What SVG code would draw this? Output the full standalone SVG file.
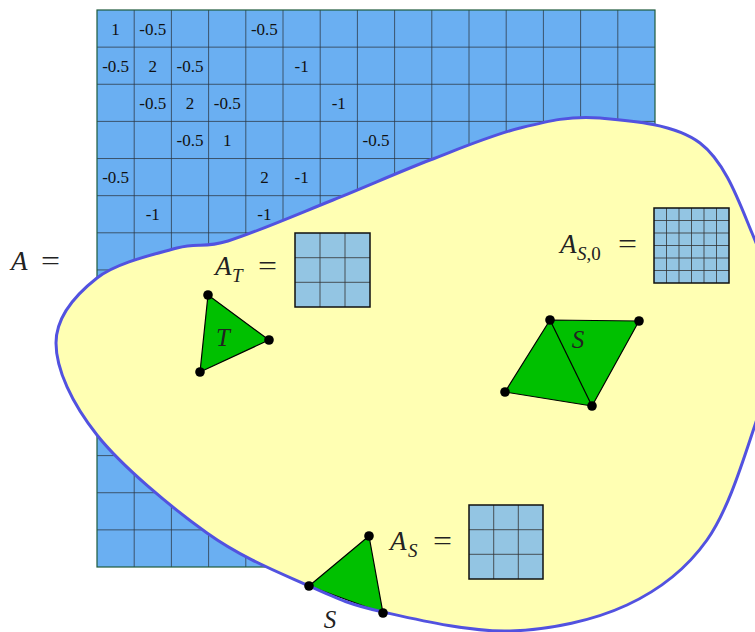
<svg xmlns="http://www.w3.org/2000/svg" width="755" height="632" viewBox="0 0 755 632">
<style>
  .num { font-family: "Liberation Serif", "DejaVu Serif", serif; font-size: 17px; fill: #111; text-anchor: middle; }
  .lbl { font-family: "Liberation Serif", "DejaVu Serif", serif; fill: #222; }
  .it { font-style: italic; }
  .gridline { fill: none; stroke: #2b3640; stroke-opacity: 0.75; stroke-width: 1; }
  .small { fill: #93c5e3; }
  .smallline { fill: none; stroke: #333; stroke-opacity: 0.8; stroke-width: 1; }
  .smallborder { fill: none; stroke: #111; stroke-width: 1.5; }
  .mesh { fill: #00c000; stroke: #000; stroke-width: 1.2; stroke-linejoin: round; }
  .dot { fill: #000; }
</style>
<defs>
  <circle id="v" r="4.8" class="dot"/>
  <path id="blob" d="M56 343C56 316.8 76.8 293.8 97 278C117.2 262.2 155.2 254.2 177 248C198.8 241.8 202 249 228 241C254 233 299.3 213.5 333 200C366.7 186.5 398.8 172 430 160C461.2 148 491.7 135 520 128C548.3 121 570 115.5 600 118C630 120.5 674.7 123.8 700 143C725.3 162.2 739 201.8 752 233C765 264.2 777.5 298 778 330C778.5 362 766.8 390 755 425C743.2 460 728.3 510 707 540C685.7 570 659.8 589.8 627 605C594.2 620.2 550.7 629.8 510 631C469.3 632.2 416.5 619.5 383 612C349.5 604.5 338.3 599.2 309 586C279.7 572.8 242.3 558.2 207 533C171.7 507.8 122.2 466.7 97 435C71.8 403.3 56 369.2 56 343Z"/>
</defs>
<rect width="755" height="632" fill="#ffffff"/>

<g id="matrix-A">
  <rect x="97" y="10" width="558" height="557" fill="#6aaff2"/>
  <path class="gridline" d="M134.2 10V567M171.4 10V567M208.6 10V567M245.8 10V567M283 10V567M320.2 10V567M357.4 10V567M394.6 10V567M431.8 10V567M469 10V567M506.2 10V567M543.4 10V567M580.6 10V567M617.8 10V567
  M97 47.13H655M97 84.27H655M97 121.4H655M97 158.53H655M97 195.67H655M97 232.8H655M97 269.93H655M97 307.07H655M97 344.2H655M97 381.33H655M97 418.47H655M97 455.6H655M97 492.73H655M97 529.87H655"/>
  <rect x="97" y="10" width="558" height="557" fill="none" stroke="#1e5a3c" stroke-width="1.2"/>
  <g class="num">
    <text x="115.6" y="35">1</text>
    <text x="152.8" y="35">-0.5</text>
    <text x="264.4" y="35">-0.5</text>
    <text x="115.6" y="72">-0.5</text>
    <text x="152.8" y="72">2</text>
    <text x="190" y="72">-0.5</text>
    <text x="301.6" y="72">-1</text>
    <text x="152.8" y="109">-0.5</text>
    <text x="190" y="109">2</text>
    <text x="227.2" y="109">-0.5</text>
    <text x="338.8" y="109">-1</text>
    <text x="190" y="146">-0.5</text>
    <text x="227.2" y="146">1</text>
    <text x="376" y="146">-0.5</text>
    <text x="115.6" y="183">-0.5</text>
    <text x="264.4" y="183">2</text>
    <text x="301.6" y="183">-1</text>
    <text x="152.8" y="220">-1</text>
    <text x="264.4" y="220">-1</text>
  </g>
</g>

<g id="label-A">
  <text class="lbl it" x="11" y="270" font-size="27">A</text>
  <text class="lbl" x="41" y="270" font-size="27" textLength="19" lengthAdjust="spacingAndGlyphs">=</text>
</g>

<g id="domain">
  <use href="#blob" fill="#ffffb3" stroke="none"/>
</g>

<g id="mesh-T">
  <polygon class="mesh" points="208,295 269,340 200,372"/>
  <text class="lbl it" x="223" y="346" font-size="25" text-anchor="middle">T</text>
</g>

<g id="mesh-S-interior">
  <polygon class="mesh" points="550,320 639,321 592,406 505,392"/>
  <line x1="550" y1="320" x2="592" y2="406" stroke="#000" stroke-width="1.2"/>
  <text class="lbl it" x="578" y="348" font-size="25" text-anchor="middle">S</text>
</g>

<g id="mesh-S-boundary">
  <polygon class="mesh" points="369,536 309,586 383,613"/>
  <text class="lbl it" x="330" y="628" font-size="25" text-anchor="middle">S</text>
</g>

<g id="domain-outline">
  <use href="#blob" fill="none" stroke="#5252e0" stroke-width="3"/>
</g>

<g id="vertices">
  <use href="#v" x="208" y="295"/>
  <use href="#v" x="269" y="340"/>
  <use href="#v" x="200" y="372"/>
  <use href="#v" x="550" y="320"/>
  <use href="#v" x="639" y="321"/>
  <use href="#v" x="592" y="406"/>
  <use href="#v" x="505" y="392"/>
  <use href="#v" x="369" y="536"/>
  <use href="#v" x="309" y="586"/>
  <use href="#v" x="383" y="613"/>
</g>

<g id="matrix-AT">
  <rect class="small" x="295" y="233" width="75" height="74"/>
  <path class="smallline" d="M320 233V307M345 233V307M295 257.7H370M295 282.3H370"/>
  <rect class="smallborder" x="295" y="233" width="75" height="74"/>
  <text class="lbl it" x="215" y="275" font-size="27">A</text>
  <text class="lbl it" x="232" y="282" font-size="19">T</text>
  <text class="lbl" x="258" y="275" font-size="27" textLength="19" lengthAdjust="spacingAndGlyphs">=</text>
</g>

<g id="matrix-AS0">
  <rect class="small" x="654" y="208" width="75" height="75"/>
  <path class="smallline" d="M666.5 208V283M679 208V283M691.5 208V283M704 208V283M716.5 208V283M654 220.5H729M654 233H729M654 245.5H729M654 258H729M654 270.5H729"/>
  <rect class="smallborder" x="654" y="208" width="75" height="75"/>
  <text class="lbl it" x="560" y="253" font-size="27">A</text>
  <text class="lbl" x="577" y="260" font-size="19"><tspan class="it">S</tspan>,0</text>
  <text class="lbl" x="618" y="253" font-size="27" textLength="19" lengthAdjust="spacingAndGlyphs">=</text>
</g>

<g id="matrix-AS">
  <rect class="small" x="469" y="505" width="74" height="74"/>
  <path class="smallline" d="M493.7 505V579M518.3 505V579M469 529.7H543M469 554.3H543"/>
  <rect class="smallborder" x="469" y="505" width="74" height="74"/>
  <text class="lbl it" x="390" y="550" font-size="27">A</text>
  <text class="lbl it" x="408" y="557" font-size="19">S</text>
  <text class="lbl" x="433" y="550" font-size="27" textLength="19" lengthAdjust="spacingAndGlyphs">=</text>
</g>
</svg>
